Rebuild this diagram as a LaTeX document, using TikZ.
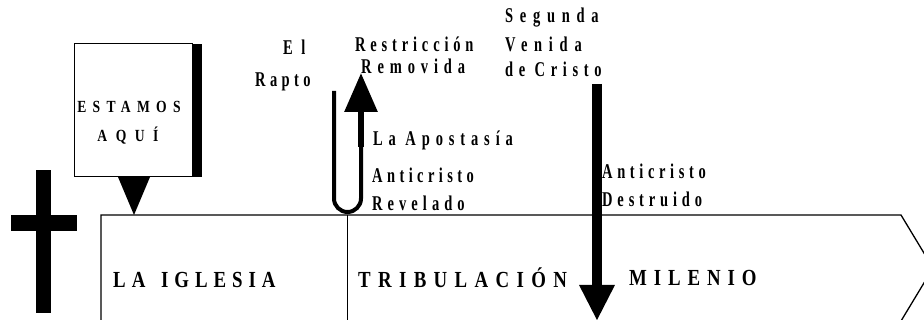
\documentclass[tikz,border=0pt]{standalone}
\usepackage{fontspec}
\setmainfont{Liberation Serif}
\newfontfamily\lblfont{Liberation Serif Bold}[FakeStretch=0.69,LetterSpace=25]
\newfontfamily\erafont{Liberation Serif Bold}[FakeStretch=0.82,LetterSpace=30]
\newfontfamily\boxfont{Liberation Serif Bold}[FakeStretch=0.8,LetterSpace=37]
\newcommand{\track}[1]{\addfontfeature{LetterSpace=#1}}
\usetikzlibrary{arrows.meta}
\tikzset{
  lbl/.style={font=\lblfont\fontsize{21}{21}\selectfont, anchor=base west, inner sep=0pt},
  era/.style={font=\erafont\fontsize{23}{23}\selectfont, anchor=base west, inner sep=0pt},
  here/.style={font=\boxfont\fontsize{17}{17}\selectfont, anchor=base, inner sep=0pt},
}
\begin{document}
\begin{tikzpicture}[x=1pt,y=-1pt]
    \useasboundingbox (0,0) rectangle (924,320);

    \fill (36,170) rectangle (51,313);
    \fill (11,215) rectangle (77,231);

    \fill (192,44) rectangle (202,177);
    \draw[line width=1pt] (74,44) rectangle (192,177);
    \fill (118,177) -- (150,177) -- (134,215) -- cycle;
    \node[here] (estamos) at (129,113) {ESTAMOS};
    \node[here] (aqui) at (128,142) {\track{50}AQUÍ};

    \draw[line width=1.3pt] (101,321) -- (101,215) -- (901,215) -- (933,268) -- (901,321);
    \draw[line width=1pt] (347,215) -- (347,321);

    \node[era] (iglesia) at (113,288) {\track{26}LA\hspace{5pt} IGLESIA};
    \node[era] (trib) at (358,288) {\track{32}TRIBULACIÓN};
    \node[era] (milenio) at (629,286) {MILENIO};

    \node[lbl] (el) at (283,55) {\track{40}El};
    \node[lbl] (rapto) at (255,87) {\track{21}Rapto};
    \node[lbl] (restr) at (355,52) {\track{23}Restricción};
    \node[lbl] (remov) at (361,74) {\track{28}Removida};
    \node[lbl] (segunda) at (505,23) {\track{32}Segunda};
    \node[lbl] (venida) at (505,52) {\track{32}Venida};
    \node[lbl] (cristo) at (505,77) {\track{27}de Cristo};
    \node[lbl] (apost) at (373,146) {\track{28}La Apostasía};
    \node[lbl] (antirev) at (372,183) {\track{21}Anticristo};
    \node[lbl] (revel) at (372,211) {\track{24}Revelado};
    \node[lbl] (antides) at (602,179) {\track{22}Anticristo};
    \node[lbl] (destr) at (602,207) {\track{23}Destruido};

    \coordinate (raptotop) at (334,91);
    \coordinate (apobase) at (361,147);
    \coordinate (restrtip) at (361,73);
    \draw[line width=4pt, rounded corners=13.5pt] (raptotop) -- (334,212) -- (361,212) -- (apobase);
    \draw[line width=6pt, -{Triangle[length=39pt,width=32pt]}] (apobase) -- (restrtip);

    \coordinate (cristotop) at (597,84);
    \coordinate (cristotip) at (597,321);
    \draw[line width=10.5pt, -{Triangle[length=36pt,width=33pt]}] (cristotop) -- (cristotip);

\end{tikzpicture}
\end{document}
